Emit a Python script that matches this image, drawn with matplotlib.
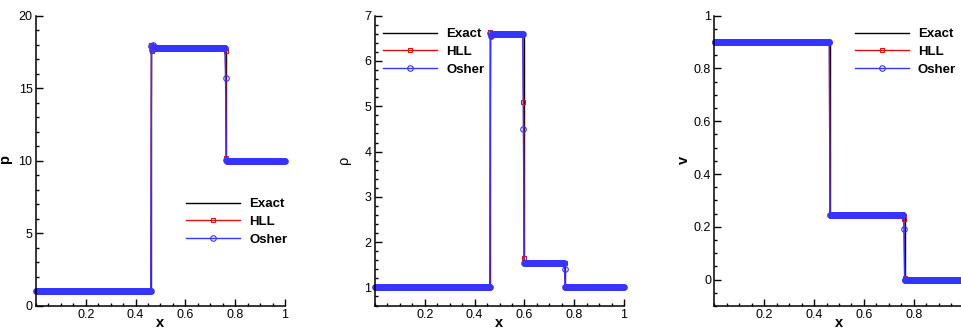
#! /usr/bin/env python

import matplotlib
matplotlib.use('Agg')
import matplotlib.pyplot as plt
from matplotlib.ticker import MultipleLocator, FormatStrFormatter
import numpy as np

plt.rcParams['font.family'] = ['Liberation Sans', 'DejaVu Sans']

# ---- data ----
n_cells = 400
x_cells = (np.arange(n_cells) + 0.5) / n_cells   # cell centres

# exact solution (piecewise constant)
exact_x = [0.0, 0.463, 0.463, 0.597, 0.597, 0.764, 0.764, 1.0]
p_exact = [1.0, 1.0, 17.8, 17.8, 17.8, 17.8, 10.0, 10.0]
rho_exact = [1.0, 1.0, 6.6, 6.6, 1.55, 1.55, 1.0, 1.0]
v_exact = [0.9, 0.9, 0.245, 0.245, 0.245, 0.245, 0.0, 0.0]

# numerical plateaus: breakpoints and state values
num_breaks = [0.4625, 0.5975, 0.7625]
p_states = [1.0, 17.8, 17.8, 10.0]
rho_states = [1.0, 6.6, 1.55, 1.0]
v_states = [0.9, 0.245, 0.245, 0.0]

# cells that sit off the plateaus (x, value)
p_hll_pts = [(0.46375, 17.95), (0.46625, 17.6), (0.46875, 17.9), (0.47125, 17.7),
             (0.76125, 17.6), (0.76375, 10.2)]
p_osher_pts = [(0.46375, 17.9), (0.46625, 17.65), (0.46875, 17.95), (0.47125, 17.7),
               (0.47375, 17.85), (0.76125, 15.7), (0.76375, 10.05)]
rho_hll_pts = [(0.46375, 6.65), (0.46625, 6.55), (0.59625, 5.1), (0.59875, 1.65),
               (0.76125, 1.55)]
rho_osher_pts = [(0.46375, 6.62), (0.46625, 6.56), (0.59625, 4.5), (0.76125, 1.4)]
v_hll_pts = [(0.76125, 0.23), (0.76375, 0.005)]
v_osher_pts = [(0.76125, 0.19)]


def build(states, pts):
    vals = np.array(states)[np.searchsorted(num_breaks, x_cells)]
    for xp, val in pts:
        vals[np.argmin(np.abs(x_cells - xp))] = val
    return vals


panels = [
    dict(exact=p_exact, hll=build(p_states, p_hll_pts), osher=build(p_states, p_osher_pts),
         ylabel='p', bold=True, ylim=(0, 20), major=5, minor=1,
         leg=(0.602, 0.372)),
    dict(exact=rho_exact, hll=build(rho_states, rho_hll_pts), osher=build(rho_states, rho_osher_pts),
         ylabel='ρ', bold=False, ylim=(0.59, 7), major=1, minor=0.2,
         leg=(0.032, 0.958)),
    dict(exact=v_exact, hll=build(v_states, v_hll_pts), osher=build(v_states, v_osher_pts),
         ylabel='v', bold=True, ylim=(-0.1, 1), major=0.2, minor=0.05,
         leg=(0.5625, 0.958)),
]

red = '#e01010'
blue = '#3535ff'

fig = plt.figure(figsize=(9.62, 3.35), dpi=100)
lefts = [36, 375, 714.5]
W, H = 962.0, 335.0

for left, pn in zip(lefts, panels):
    ax = fig.add_axes([left / W, 29 / H, 249 / W, 290.3 / H])
    ax.plot(exact_x, pn['exact'], color='black', lw=1.0, label='Exact')
    ax.plot(x_cells, pn['hll'], color=red, lw=1.0, marker='s', ms=2.8,
            mfc='none', mec=red, mew=0.8, label='HLL', clip_on=False)
    ax.plot(x_cells, pn['osher'], color=blue, lw=1.0, marker='o', ms=4.0,
            mfc='none', mec=blue, mew=0.8, label='Osher', clip_on=False)

    ax.set_xlim(0, 1)
    ax.set_ylim(*pn['ylim'])
    ax.xaxis.set_minor_locator(MultipleLocator(0.05))
    ax.yaxis.set_major_locator(MultipleLocator(pn['major']))
    ax.yaxis.set_minor_locator(MultipleLocator(pn['minor']))
    ax.set_xticks([0.2, 0.4, 0.6, 0.8, 1.0])
    ax.xaxis.set_major_formatter(FormatStrFormatter('%g'))
    ax.yaxis.set_major_formatter(FormatStrFormatter('%g'))

    for s in ['top', 'right']:
        ax.spines[s].set_visible(False)
    for s in ['left', 'bottom']:
        ax.spines[s].set_linewidth(1.1)
    ax.tick_params(which='both', direction='in', labelsize=9, pad=2.5)
    ax.tick_params(which='major', length=5, width=1.0)
    ax.tick_params(which='minor', length=2.5, width=1.0)

    ax.set_xlabel('x', fontsize=10.5, fontweight='bold')
    ax.xaxis.set_label_coords(0.498, -0.035)
    ax.set_ylabel(pn['ylabel'], fontsize=10.5,
                  fontweight='bold' if pn['bold'] else 'normal')
    ax.yaxis.set_label_coords(-0.095, 0.503)

    ax.legend(loc='upper left', bbox_to_anchor=pn['leg'], frameon=False,
              prop=dict(size=9.5, weight='bold'), handlelength=4.1,
              handletextpad=0.7, labelspacing=0.42, borderpad=0,
              borderaxespad=0, numpoints=1)

fig.savefig('out.png', dpi=100)
